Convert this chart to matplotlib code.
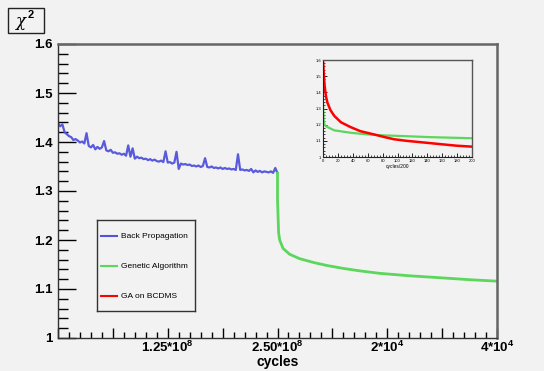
import numpy as np
import matplotlib
matplotlib.use("Agg")
import matplotlib.pyplot as plt
from matplotlib.patches import Rectangle
from matplotlib.lines import Line2D

plt.rcParams['font.family'] = ['Liberation Sans', 'DejaVu Sans']
plt.rcParams['mathtext.fontset'] = 'custom'
plt.rcParams['mathtext.bf'] = 'Liberation Sans:bold'
plt.rcParams['mathtext.rm'] = 'Liberation Sans'
plt.rcParams['mathtext.default'] = 'bf'

# main plot data (x in axis units 0..4)
bp_y = [1.438, 1.432, 1.436, 1.420, 1.416, 1.412, 1.410, 1.404, 1.406, 1.403,
        1.399, 1.401, 1.397, 1.418, 1.392, 1.389, 1.394, 1.385, 1.390, 1.386,
        1.389, 1.402, 1.383, 1.381, 1.384, 1.378, 1.379, 1.376, 1.377, 1.374,
        1.376, 1.372, 1.393, 1.370, 1.387, 1.366, 1.370, 1.367, 1.368, 1.365,
        1.366, 1.363, 1.365, 1.362, 1.364, 1.361, 1.360, 1.362, 1.359, 1.381,
        1.358, 1.359, 1.356, 1.358, 1.380, 1.345, 1.356, 1.354, 1.355, 1.353,
        1.354, 1.351, 1.352, 1.350, 1.352, 1.349, 1.351, 1.367, 1.349, 1.348,
        1.350, 1.347, 1.348, 1.346, 1.348, 1.345, 1.347, 1.345, 1.346, 1.344,
        1.345, 1.343, 1.375, 1.343, 1.344, 1.342, 1.343, 1.341, 1.345, 1.338,
        1.342, 1.339, 1.341, 1.338, 1.340, 1.339, 1.338, 1.340, 1.337, 1.347,
        1.336]
bp_x = np.linspace(0, 2, len(bp_y))

ga_x = [2.0, 2.0, 2.005, 2.01, 2.02, 2.05, 2.11, 2.2, 2.33, 2.45, 2.6, 2.75,
        2.93, 3.2, 3.48, 3.75, 4.0]
ga_y = [1.336, 1.282, 1.25, 1.215, 1.200, 1.183, 1.171, 1.162, 1.154, 1.148,
        1.142, 1.137, 1.132, 1.127, 1.123, 1.119, 1.116]

x_tick_labels = ['1.25*10$^{8}$', '2.50*10$^{8}$', '2*10$^{4}$', '4*10$^{4}$']
y_tick_labels = ['1', '1.1', '1.2', '1.3', '1.4', '1.5', '1.6']

# inset data (cycles/200)
in_red_x = [0, 1, 2, 3, 4, 6, 10, 15, 24, 37, 50, 68, 81, 95, 112, 139, 161, 179, 200]
in_red_y = [1.60, 1.52, 1.45, 1.41, 1.375, 1.335, 1.29, 1.255, 1.215, 1.185,
            1.16, 1.14, 1.125, 1.11, 1.10, 1.088, 1.078, 1.07, 1.064]
in_green_x = [0, 0.5, 1, 2, 4, 15, 37, 59, 81, 104, 143, 200]
in_green_y = [1.335, 1.26, 1.22, 1.20, 1.19, 1.165, 1.15, 1.14, 1.134, 1.13, 1.123, 1.116]

BLUE = '#5252dc'
GREEN = '#5cd65c'
RED = '#ff0000'
BG = '#f2f2f2'
W, H = 544, 371

fig = plt.figure(figsize=(5.44, 3.71), dpi=100, facecolor=BG)

def box(l, t, r, b):
    return [l / W, (H - b) / H, (r - l) / W, (b - t) / H]

ax = fig.add_axes(box(58, 44, 497, 338), facecolor=BG)
ax.plot(bp_x, bp_y, color=BLUE, lw=1.6, alpha=0.95)
ax.plot(ga_x, ga_y, color=GREEN, lw=2.0)
ax.set_xlim(0, 4)
ax.set_ylim(1.0, 1.6)

ax.set_yticks(np.arange(7) * 0.1 + 1.0)
ax.set_yticklabels(y_tick_labels, fontsize=9.5, fontweight='bold')
ax.set_yticks(np.arange(31) * 0.02 + 1.0, minor=True)
ax.set_xticks(np.arange(9) * 0.5)
ax.set_xticklabels(['', '', x_tick_labels[0], '', x_tick_labels[1], '',
                    x_tick_labels[2], '', x_tick_labels[3]],
                   fontsize=9.5, fontweight='bold')
ax.set_xticks(np.arange(41) * 0.1, minor=True)
ax.tick_params(axis='y', which='major', direction='in', length=13, width=1, pad=4)
ax.tick_params(axis='y', which='minor', direction='in', length=7, width=1)
ax.tick_params(axis='x', which='major', direction='in', length=7, width=1, pad=1)
ax.tick_params(axis='x', which='minor', direction='in', length=4, width=1)
ax.set_xlabel('cycles', fontsize=10, fontweight='bold', labelpad=0)
for s in ['left', 'bottom']:
    ax.spines[s].set_color('#333333')
    ax.spines[s].set_linewidth(1.0)
for s in ['top', 'right']:
    ax.spines[s].set_color('#666666')
    ax.spines[s].set_linewidth(1.8)

# legend box
lg = fig.add_axes(box(97, 220, 195, 311), facecolor=BG)
lg.set_xlim(0, 98)
lg.set_ylim(91, 0)
lg.set_xticks([])
lg.set_yticks([])
for s in lg.spines.values():
    s.set_color('#333333')
    s.set_linewidth(1.0)
for yy, c, name in [(16, BLUE, 'Back Propagation'), (46, GREEN, 'Genetic Algorithm'),
                    (76, RED, 'GA on BCDMS')]:
    lg.add_line(Line2D([4, 20], [yy, yy], color=c, lw=1.5))
    lg.text(24, yy, name, fontsize=6, va='center', ha='left')

# inset
ins = fig.add_axes(box(323, 60, 472, 157), facecolor=BG)
ins.plot(in_green_x, in_green_y, color=GREEN, lw=1.6)
ins.plot(in_red_x, in_red_y, color=RED, lw=1.8)
ins.set_xlim(0, 200)
ins.set_ylim(1.0, 1.6)
ins.set_xticks(np.arange(11) * 20)
ins.set_xticks(np.arange(51) * 4, minor=True)
ins.set_yticks(np.arange(7) * 0.1 + 1.0)
ins.set_yticklabels(y_tick_labels)
ins.set_yticks(np.arange(31) * 0.02 + 1.0, minor=True)
ins.tick_params(which='major', direction='in', length=3, width=0.6, labelsize=3, pad=1.5)
ins.tick_params(which='minor', direction='in', length=1.5, width=0.5)
ins.set_xlabel('cycles/200', fontsize=3.5, labelpad=0.5)
for s in ['left', 'bottom']:
    ins.spines[s].set_color('#222222')
    ins.spines[s].set_linewidth(0.8)
for s in ['top', 'right']:
    ins.spines[s].set_color('#555555')
    ins.spines[s].set_linewidth(1.0)

# chi^2 title box
fig.patches.append(Rectangle((8 / W, (H - 33) / H), 36 / W, 25 / H,
                             transform=fig.transFigure, facecolor='none',
                             edgecolor='#222222', lw=1.0))
fig.text(16 / W, (H - 21) / H, 'χ', fontsize=12, family='DejaVu Serif',
         style='italic', va='center', ha='left')
fig.text(28 / W, (H - 15) / H, '2', fontsize=8, fontweight='bold',
         va='center', ha='left')

fig.savefig('out.png', dpi=100, facecolor=BG)
